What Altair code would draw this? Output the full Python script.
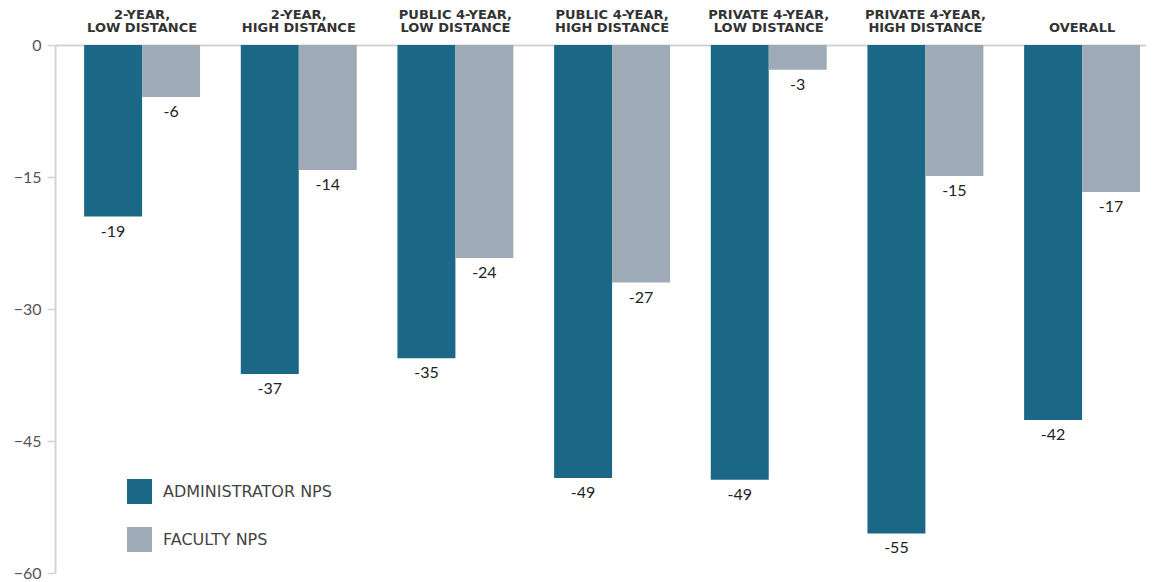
import altair as alt
import pandas as pd

categories = ["2-YEAR,\nLOW DISTANCE", "2-YEAR,\nHIGH DISTANCE", "PUBLIC 4-YEAR,\nLOW DISTANCE",
              "PUBLIC 4-YEAR,\nHIGH DISTANCE", "PRIVATE 4-YEAR,\nLOW DISTANCE",
              "PRIVATE 4-YEAR,\nHIGH DISTANCE", "OVERALL"]
series = ["ADMINISTRATOR NPS", "FACULTY NPS"]
admin = [-19.5, -37.4, -35.6, -49.2, -49.4, -55.5, -42.6]
faculty = [-5.9, -14.2, -24.2, -27.0, -2.8, -14.9, -16.7]
admin_labels = ["-19", "-37", "-35", "-49", "-49", "-55", "-42"]
faculty_labels = ["-6", "-14", "-24", "-27", "-3", "-15", "-17"]
y_ticks = [0, -15, -30, -45, -60]
colors = ["#1B6886", "#9EAAB5"]

rows = []
for i, c in enumerate(categories):
    rows.append({"cat": c, "series": series[0], "value": admin[i], "label": admin_labels[i]})
    rows.append({"cat": c, "series": series[1], "value": faculty[i], "label": faculty_labels[i]})
df = pd.DataFrame(rows)

FONT = "Lato"
WIDE = "DejaVu Sans"

x_enc = alt.X("cat:N", sort=categories,
              scale=alt.Scale(paddingInner=0.26, paddingOuter=0.112, align=0.83),
              axis=alt.Axis(orient="top", title=None, labelAngle=0, ticks=False,
                            labelExpr="indexof(datum.label, '\\n') < 0 ? ['', datum.label] : split(datum.label, '\\n')",
                            labelFont=WIDE, labelFontWeight="bold", labelFontSize=13,
                            labelColor="#333333", labelPadding=23.5, labelLineHeight=13,
                            labelBaseline="bottom", labelLimit=0,
                            domainColor="#D3D3D3", domainWidth=2))
xoff = alt.XOffset("series:N", sort=series, scale=alt.Scale(paddingInner=0, paddingOuter=0))
y_enc = alt.Y("value:Q", scale=alt.Scale(domain=[-60, 0], nice=False),
              axis=alt.Axis(values=y_ticks, title=None, grid=False, orient="left",
                            domainColor="#D3D3D3", domainWidth=2, tickColor="#D3D3D3",
                            tickSize=8, tickWidth=1.5, labelFont=FONT, labelFontSize=16,
                            labelColor="#555555", labelPadding=6))

bars = alt.Chart(df).mark_bar().encode(
    x=x_enc, xOffset=xoff, y=y_enc,
    color=alt.Color("series:N", sort=series,
                    scale=alt.Scale(domain=series, range=colors),
                    legend=alt.Legend(title=None, orient="none", legendX=72, legendY=434,
                                      symbolType="square", symbolSize=625,
                                      symbolStrokeWidth=0, rowPadding=23,
                                      labelOffset=11, labelFont=WIDE, labelFontSize=16,
                                      labelColor="#444444", padding=0, labelLimit=0)),
)

texts = alt.Chart(df).mark_text(baseline="top", dy=7, font=FONT, fontSize=16,
                                color="#222222").encode(
    x=alt.X("cat:N", sort=categories), xOffset=xoff, y="value:Q", text="label:N")

chart = alt.layer(bars, texts).properties(
    width=1091, height=528,
    autosize=alt.AutoSizeParams(type="none"),
    padding={"left": 47, "top": 37, "right": 0, "bottom": 9},
).configure_view(stroke=None)

chart.save("out.html", embed_options={"renderer": "svg", "actions": False})
